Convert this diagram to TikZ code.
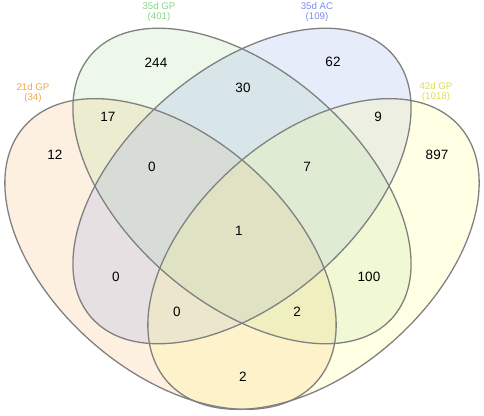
\documentclass[tikz,border=0pt]{standalone}
\usepackage{fontspec}
\setmainfont{Liberation Sans}
\begin{document}
\begin{tikzpicture}[x=1pt,y=1pt,
  outline/.style={draw=black!50, line width=1.3pt},
  venfill/.style={fill opacity=0.2},
  num/.style={font=\fontsize{13.5}{14}\selectfont, text=black, inner sep=0pt},
  setlabel/.style={font=\fontsize{9.7}{10.5}\selectfont, align=center, inner sep=0pt}]
\definecolor{cOr}{RGB}{250,178,100}
\definecolor{cGr}{RGB}{165,220,150}
\definecolor{cBl}{RGB}{135,160,235}
\definecolor{cYe}{RGB}{255,255,120}
\definecolor{tOr}{RGB}{242,168,70}
\definecolor{tGr}{RGB}{140,210,140}
\definecolor{tBl}{RGB}{125,140,238}
\definecolor{tYe}{RGB}{222,222,80}
\useasboundingbox (0,0) rectangle (484,415);
% fills
\fill[cOr, venfill, rotate around={-41:(170.5,161)}] (170.5,161) ellipse [x radius=194, y radius=118];
\fill[cGr, venfill, rotate around={-41:(242,229)}] (242,229) ellipse [x radius=200, y radius=116];
\fill[cBl, venfill, rotate around={41:(242,229)}] (242,229) ellipse [x radius=200, y radius=116];
\fill[cYe, venfill, rotate around={41:(313.5,161)}] (313.5,161) ellipse [x radius=194, y radius=118];
% outlines
\draw[outline, rotate around={-41:(170.5,161)}] (170.5,161) ellipse [x radius=194, y radius=118];
\draw[outline, rotate around={-41:(242,229)}] (242,229) ellipse [x radius=200, y radius=116];
\draw[outline, rotate around={41:(242,229)}] (242,229) ellipse [x radius=200, y radius=116];
\draw[outline, rotate around={41:(313.5,161)}] (313.5,161) ellipse [x radius=194, y radius=118];
% set labels
\node[setlabel, text=tGr] (lgr) at (159,403) {35d GP\\(401)};
\node[setlabel, text=tBl] (lbl) at (317,403) {35d AC\\(109)};
\node[setlabel, text=tOr] (lor) at (33,322) {21d GP\\(34)};
\node[setlabel, text=tYe] (lye) at (436,323) {42d GP\\(1018)};
% counts
\node[num] (n244) at (156,352) {244};
\node[num] (n30) at (243,327) {30};
\node[num] (n62) at (333,353) {62};
\node[num] (n17) at (108,298) {17};
\node[num] (n9) at (378,298) {9};
\node[num] (n12) at (55,260) {12};
\node[num] (n897) at (437,260) {897};
\node[num] (n0a) at (152,248) {0};
\node[num] (n7) at (307,248) {7};
\node[num] (n1) at (239,184) {1};
\node[num] (n0b) at (116,138) {0};
\node[num] (n100) at (369,138) {100};
\node[num] (n0c) at (177,103) {0};
\node[num] (n2a) at (297,103) {2};
\node[num] (n2b) at (243,38) {2};
\end{tikzpicture}
\end{document}
